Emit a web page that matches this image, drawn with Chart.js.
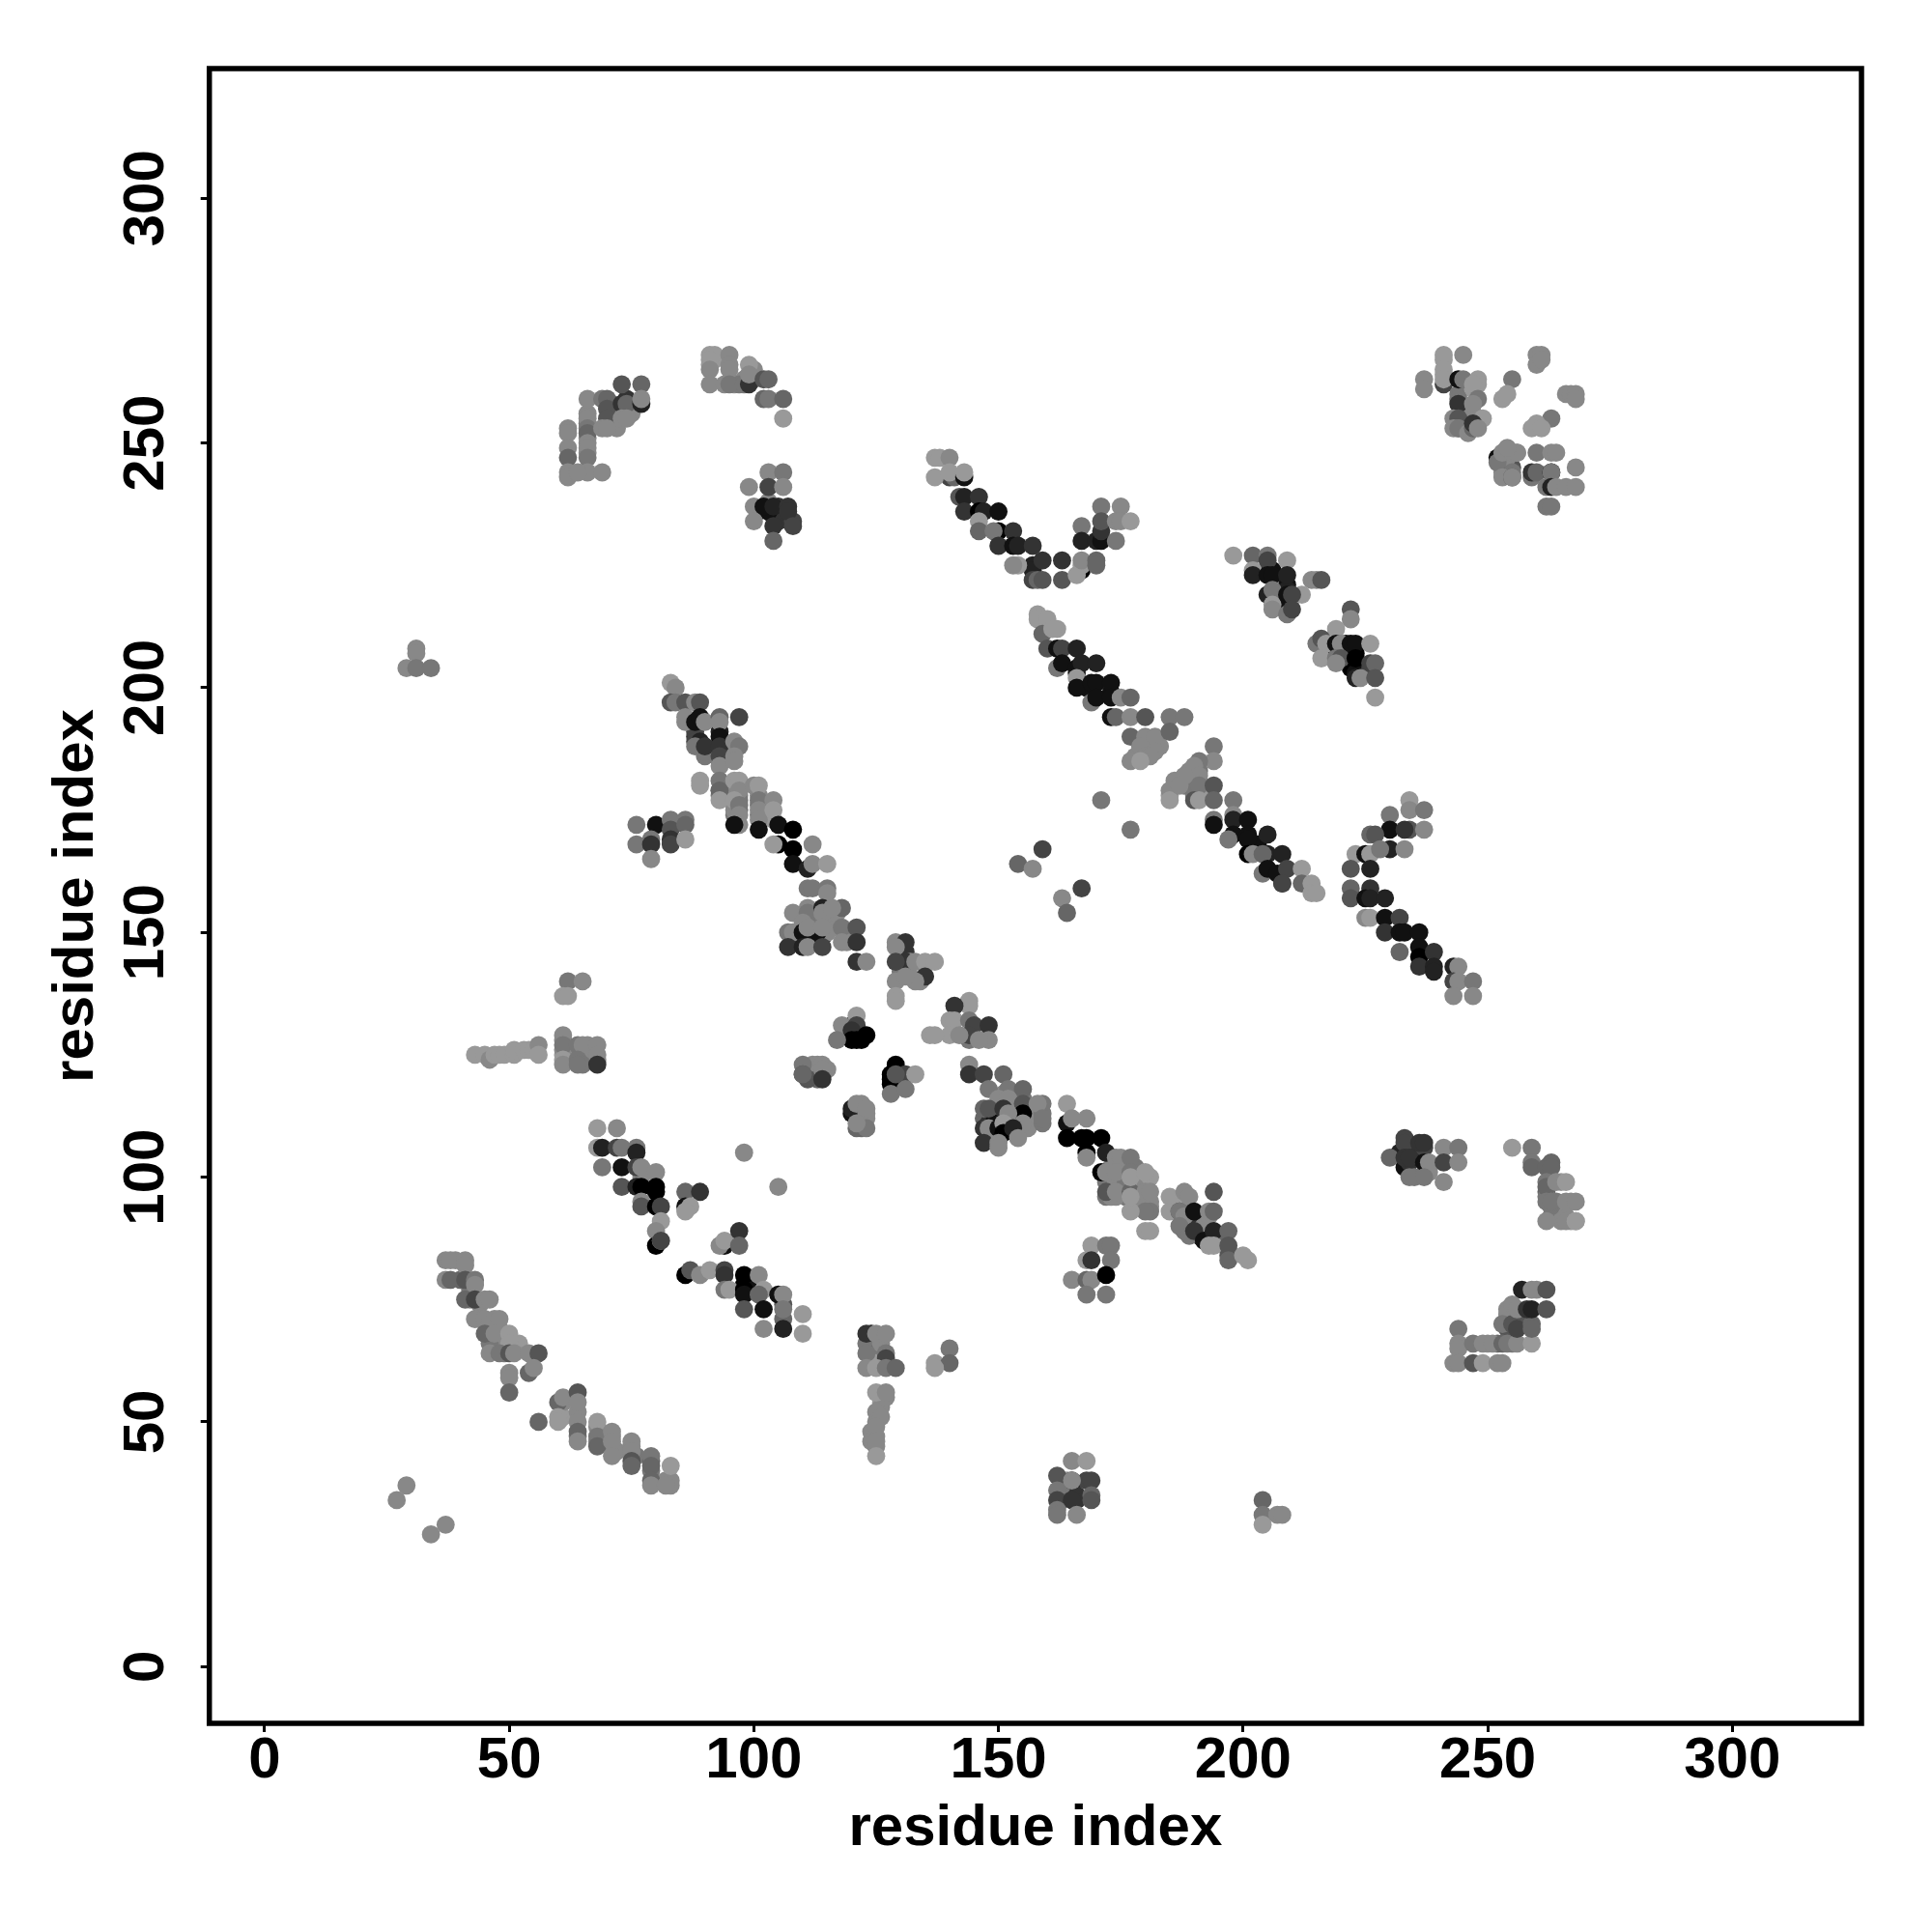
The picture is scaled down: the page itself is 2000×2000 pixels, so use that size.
<!DOCTYPE html>
<html>
<head>
<meta charset="utf-8">
<title>residue contacts</title>
<script src="https://cdn.jsdelivr.net/npm/chart.js@4"></script>
<style>
  html, body { margin: 0; padding: 0; background: #fff; }
  canvas { display: block; }
</style>
</head>
<body>
<canvas id="grafico" width="2000" height="2000"></canvas>
<script>
// contactos: residuo x, residuo y, nivel (0 claro .. 9 negro)
const tickValues = [0, 50, 100, 150, 200, 250, 300];
const axisLabel = 'residue index';

// puntos medio tapados dentro de los grupos, van debajo de los demas
const underAX = [39,40,42,42,44,44,47,47,48,49,46,49,52,61,68,68,71,71,72,75,76,79,79,61,64,64,83,82];
const underAY = [83,79,77,75,74,71,71,69,69,67,66,64,66,51,49,46,47,45,44,45,43,42,40,54,52,47,38,38];
const underAL = [1,3,2,1,1,1,1,2,1,1,2,2,0,0,1,1,1,1,1,1,2,3,2,1,1,2,1,1];

const underBX = [126,126,125,125,125,124,125,127,124,125,123,125,124,126,125,65,64,65,66,67,67,68,61,61,61,66];
const underBY = [54,53,52,50,47,48,45,55,68,67,66,64,63,66,62,125,125,124,125,126,124,124,128,125,126,127];
const underBL = [0,1,1,1,1,1,1,1,7,1,2,3,2,1,0,2,2,2,1,1,1,1,1,0,1,1];

const underCX = [97,97,96,97,101,101,101,96,96,104,93,93,96,96,88,88,93,96,90,93];
const underCY = [178,177,180,175,178,176,174,174,175,173,178,179,179,176,190,191,191,187,186,185];
const underCL = [1,2,1,2,1,2,2,2,1,0,2,2,1,1,6,5,7,1,2,2];

const underDX = [112,113,115,116,117,114,111,115,117,113,110,119,119,129,128,129,120,121,122,120,121,120,122,123,122,122,122];
const underDY = [152,153,152,152,151,149,149,150,154,150,148,150,148,122,119,119,129,129,129,131,130,113,115,112,113,111,110];
const underDL = [1,2,1,1,1,7,8,1,1,8,7,2,1,9,9,9,9,7,9,6,6,8,1,1,1,2,3];

const underEX = [111,111,112,113,115,114,113,111,130,131,132,131,130,132,134];
const underEY = [122,121,123,123,122,121,120,120,146,146,144,143,142,141,140];
const underEL = [2,4,1,1,1,1,3,4,1,6,1,5,2,1,1];

const underFX = [151,152,152,155,155,152,154,153,151,152,148,147,148,150,150,149,151,156,157,156,159];
const underFY = [117,116,115,116,114,112,111,112,113,114,112,112,111,109,108,111,110,112,113,110,113];
const underFL = [1,2,1,2,3,1,1,1,6,1,4,3,6,1,1,8,8,1,1,1,2];

const underGX = [173,172,174,175,175,176,176,176,178,178,178,180,181,181,181,178,175,172,173,174];
const underGY = [102,99,99,101,98,100,99,96,99,97,95,99,100,95,94,102,103,96,96,96];
const underGL = [1,2,1,2,1,2,2,2,0,0,1,1,0,1,1,2,1,2,1,1];

const underHX = [188,188,186,189,189,188,190,191,192,193,196,197,197];
const underHY = [95,94,95,92,90,89,91,88,90,92,87,85,84];
const underHL = [1,2,0,3,3,2,6,7,1,1,3,3,4];

const underIX = [179,180,180,181,182,183,178,179,189,190,190,191,191,186,188,185,190,192,166,173,168,203];
const underIY = [188,187,189,189,188,188,186,186,183,183,180,183,179,181,180,178,178,178,203,199,200,168];
const underIL = [1,1,1,1,1,1,1,1,1,1,1,2,2,1,2,0,2,0,7,8,8,8];

const underJX = [241,241,244,247,246,245,245,247,248,253,254,255,254,255,256,259,250,255,252,254,254,257,258,255,254,254];
const underJY = [264,267,260,261,254,253,255,256,254,244,246,245,247,244,248,243,66,66,66,70,69,70,70,73,73,72];
const underJL = [0,0,2,0,2,3,2,1,1,1,1,4,1,2,1,2,1,2,3,3,4,3,4,1,1,1];

const underKX = [235,232,233,234,235,236,238,237,262,262,263,263,264,267,267,265,266,265];
const underKY = [105,105,102,103,100,104,101,106,97,96,94,92,95,95,91,99,92,91];
const underKL = [6,7,8,6,2,7,1,5,3,2,2,2,2,1,0,0,1,1];

const underLX = [165,165,166,166,164,163,163,66,66,66,71,71,72,72,72,75,75,74,91,92,96,98,100,97,100];
const underLY = [36,37,34,35,38,37,34,254,251,248,254,258,257,256,253,256,257,259,266,267,262,263,263,262,265];
const underLL = [6,7,6,6,0,2,3,2,1,1,4,3,2,1,1,1,1,6,0,0,1,1,2,2,1];

const underMX = [105,105,104,108,101,103,205,206,209,206,209,209,220,219,222,223,223,222,223,226,221,218,99,98,99,106,106,77];
const underMY = [234,237,235,234,236,236,224,224,221,218,220,217,207,207,207,207,204,204,203,204,209,208,79,78,77,74,71,100];
const underML = [6,6,6,5,1,8,7,8,8,2,7,8,4,1,8,9,9,9,8,5,8,7,9,9,8,4,3,1];

const arcAX = [62,62,62,62,62,62,66,66,66,66,66,66,66,66,64,69,66,69,70,70,70,69,70,73,73,74,73,74,77,77,77];
const arcAY = [253,252,249,247,244,243,256,255,253,252,250,249,247,244,244,244,259,259,259,257,255,253,253,262,258,258,255,255,262,258,259];
const arcAL = [1,1,1,3,1,1,1,1,2,3,1,1,2,1,1,1,1,2,3,4,4,1,1,4,6,3,1,1,3,7,1];

const arcBX = [91,92,91,91,95,95,95,91,94,95,98,99,99,99,102,103,102,103,106,106];
const arcBY = [268,268,267,265,268,266,265,262,262,262,262,262,266,264,263,263,259,259,259,255];
const arcBL = [0,0,0,1,1,1,1,1,1,2,2,6,0,1,4,3,3,2,3,0];

const blobCX = [103,103,106,99,103,106,100,102,104,107,107,100,104,108,104];
const blobCY = [238,244,244,241,241,241,237,237,237,237,236,234,233,233,230];
const blobCL = [1,1,2,1,5,1,1,8,7,6,6,1,6,5,3];

const smallDX = [31,31,29,31,34];
const smallDY = [208,207,204,204,204];
const smallDL = [1,1,1,2,2];

const strandEX = [83,84,83,84,86,88,89,86,86,88,89,90,93,97,93,88,89,88,90,90,93,93,93,93,96,97,96,96];
const strandEY = [201,200,197,197,197,197,197,193,194,193,194,193,194,194,193,189,189,188,187,188,190,188,186,184,189,188,186,185];
const strandEL = [0,1,4,2,4,1,4,1,1,8,8,1,3,5,1,5,7,2,2,6,8,6,5,1,1,2,1,1];

const strandFX = [89,89,93,93,93,96,97,97,96,97,97,97,96,100,101,101,101,101,101,104,104,105,108,105,104,108,108,112,111,112,115];
const strandFY = [181,180,181,179,177,181,181,179,177,176,174,172,172,180,180,177,175,173,171,177,175,172,171,168,168,167,164,168,163,164,164];
const strandFL = [0,0,2,3,0,0,0,1,0,2,1,1,8,1,0,2,1,1,8,1,0,8,9,9,0,9,8,1,7,1,0];

const sideGX = [76,80,83,83,86,86,76,79,79,83,83,86,79];
const sideGY = [172,172,173,171,173,172,168,169,168,169,168,169,165];
const sideGL = [2,8,2,4,2,3,2,2,6,6,5,0,1];

const blobHX = [111,112,115,115,108,111,111,114,114,118,116,110,107,108,110,111,114,118,121,118,121,107,110,111,114,121,123];
const blobHY = [159,159,159,158,154,155,154,155,154,155,155,152,150,150,150,151,151,151,151,148,148,147,147,147,147,144,144];
const blobHL = [2,2,2,1,1,1,2,7,1,3,1,1,2,1,8,1,1,2,4,1,6,6,7,1,5,6,1];

const blobIX = [129,131,129,131,129,133,135,137,135,133,129,131,129,129];
const blobIY = [148,148,147,144,144,144,144,144,141,140,140,141,137,136];
const blobIL = [1,6,1,6,5,1,0,0,6,1,1,1,0,0];

const blobJX = [144,144,141,140,141,144,145,148,144,140,136,137,144,148,146,142];
const blobJY = [136,135,135,132,132,132,131,131,128,129,129,129,129,128,128,129];
const blobJL = [0,0,6,0,0,2,5,6,2,0,0,0,5,1,1,1];

const crossKX = [121,118,121,120,120,122,121,117,123];
const crossKY = [133,131,131,130,128,128,128,128,129];
const crossKL = [0,1,5,6,9,9,9,2,9];

const crossLX = [129,128,128,131,133,128,131,129];
const crossLY = [123,121,120,121,121,117,118,121];
const crossLL = [9,9,9,5,0,2,2,4];

const crossMX = [120,121,123,123,121,123,121];
const crossMY = [114,115,113,114,110,110,111];
const crossML = [7,1,1,1,3,2,1];

const crossNX = [110,110,114,114,114,110];
const crossNY = [123,121,123,122,120,121];
const crossNL = [2,4,1,1,6,3];

const lowOX = [62,65,61,62];
const lowOY = [140,140,137,137];
const lowOL = [2,1,0,0];

const rowPX = [43,45,46,47,48,49,51,51,53,54,55,56,56];
const rowPY = [125,125,124,125,125,125,125,126,126,126,126,127,125];
const rowPL = [0,0,1,0,0,0,0,0,0,0,0,1,0];

const blobQX = [61,61,61,61,64,65,68,64,65,68,68,64];
const blobQY = [129,127,124,123,127,127,127,124,123,125,123,123];
const blobQL = [1,2,0,1,2,1,1,2,2,1,6,2];

const strandRX = [68,72,68,69,72,73,76,76,69,73,76,77,80,73,76,77,80,80,77,77,80,81,81,80,80,81,81];
const strandRY = [110,110,106,106,106,106,106,105,102,102,102,102,101,98,98,98,98,97,95,94,94,94,91,89,86,87,87];
const strandRL = [0,1,0,7,5,2,2,7,2,8,5,1,1,4,7,9,9,9,1,4,9,5,0,1,9,0,5];

const sideSX = [86,89,86,87,86,94,93,94,97,97,98,105];
const sideSY = [97,97,94,94,93,86,86,87,89,86,105,98];
const sideSL = [3,6,8,0,0,8,1,0,6,3,1,1];

const strandTX = [86,87,89,91,94,94,98,101,94,95,98,98,102,101,105,106,98,102,106,110,102,106,110];
const strandTY = [80,81,80,81,81,80,80,80,77,77,77,76,77,76,76,76,73,73,73,72,69,69,68];
const strandTL = [9,4,1,0,5,6,9,1,2,0,9,8,0,3,8,1,4,8,2,0,1,7,0];

const arcUX = [37,38,41,41,37,38,41,43,43,41,43,45,46,43,45,46,48,45,47,50,50,46,48,50,51,54,56,50,50,54,55,50];
const arcUY = [83,83,83,82,79,79,79,79,78,75,75,75,75,71,71,70,71,68,68,68,66,64,64,64,64,64,64,60,59,60,61,56];
const arcUL = [1,1,1,1,1,3,4,2,1,3,5,1,1,1,1,1,1,3,1,0,0,1,2,4,1,1,4,1,1,3,1,3];

const arcVX = [56,60,61,64,64,60,60,64,64,64,68,68,68,71,71,71,75,75,75,75,79,79,79,79,83,83,82];
const arcVY = [50,54,55,56,54,51,50,50,48,46,50,47,45,48,46,43,46,44,42,41,43,41,38,37,41,37,37];
const arcVL = [3,3,1,4,1,0,0,1,3,1,0,2,3,1,1,1,1,1,4,3,2,3,3,1,0,1,1];

const colWX = [123,125,127,123,127,127,123,125,127,129,125,127,126,125,124,125,125];
const colWY = [68,68,68,64,64,63,61,61,61,61,56,56,51,49,46,46,43];
const colWL = [6,1,1,2,2,5,1,0,2,3,0,1,1,1,1,1,0];

const pairXX = [140,137,140,137];
const pairXY = [65,62,62,61];
const pairXL = [2,0,3,0];

const blobYX = [165,168,162,165,168,169,162,162,165,169,169,162,162,166,165];
const blobYY = [42,42,39,38,38,38,36,34,34,35,34,32,31,31,38];
const blobYL = [1,0,4,7,5,5,2,5,6,3,4,2,2,1,1];

const blobZX = [204,204,204,207,208];
const blobZY = [34,31,29,31,31];
const blobZL = [3,2,0,1,1];

const lonelyAX = [27,29,34,37,171,177,159,154,157,167,163,164];
const lonelyAY = [34,37,27,29,177,171,167,164,163,159,157,154];
const lonelyAL = [1,1,1,1,2,2,5,3,1,5,1,3];

const diagBX = [137,138,140,140,137,141,140,143,143,142,143,146,143,146,147,150,146,146,150,149,153,150,153,154,157];
const diagBY = [247,247,247,243,243,243,244,243,244,239,239,239,236,236,236,236,234,232,232,232,232,229,229,229,229];
const diagBL = [0,0,1,5,0,3,0,8,0,4,7,6,6,9,7,8,0,3,9,2,6,6,8,7,6];

const diagCX = [157,157,154,153,159,163,157,158,159,163,167,167,166,167,170,170];
const diagCY = [225,224,225,225,226,226,222,222,222,222,224,225,223,226,226,225];
const diagCL = [7,7,0,1,6,6,5,3,4,4,9,0,0,1,3,3];

const vDX = [167,167,170,171,174,171,175,171,171,174,175,177];
const vDY = [233,230,230,230,230,237,237,232,234,234,234,234];
const vDL = [2,7,7,8,2,2,1,6,4,1,1,0];

const diagEX = [158,158,160,159,162,161,160,162,163,166,162,163,166,167,170,166,166,169,170,173,169,170,173,175,177];
const diagEY = [215,214,214,211,212,212,208,208,208,208,204,205,204,205,205,202,200,201,201,201,197,198,198,198,198];
const diagEL = [0,0,0,3,0,0,4,8,5,7,2,8,8,7,7,0,8,8,8,8,2,8,8,1,3];

const diagFX = [173,174,177,180,185,188,177,180,182,185,179,182,180,181,177,179];
const diagFY = [194,194,194,194,194,194,190,190,190,191,188,187,186,186,185,185];
const diagFL = [8,3,1,4,2,2,3,1,1,3,1,1,1,1,1,0];

const diagGX = [194,194,191,190,191,191,188,185,185,187,190,191,194,194,198];
const diagGY = [188,185,185,184,182,180,182,179,177,180,177,177,180,177,177];
const diagGL = [2,1,2,1,1,2,1,1,0,1,4,0,4,3,2];

const diagHX = [194,194,198,198,201,198,197,201,201,205,201,202,205,204,208];
const diagHY = [173,172,174,173,173,170,169,170,169,170,166,166,166,166,166];
const diagHL = [2,8,1,7,8,8,2,8,8,7,9,1,7,3,7];

const diagIX = [204,205,207,208,209,208,212,212,214,214,215];
const diagIY = [162,163,162,160,163,160,163,160,160,158,158];
const diagIL = [2,8,8,5,5,5,0,3,0,0,0];

const vJX = [234,234,237,230,230,234,237,233,226,227,223,225,226,230,233,228];
const vJY = [177,175,175,174,171,171,171,171,170,170,166,166,166,167,167,167];
const vJL = [0,1,2,2,8,4,1,6,3,4,0,8,0,7,1,2];

const vKX = [222,226,222,222,226,225,226,229,225,226,229,232,229,232,233,236];
const vKY = [163,163,159,157,159,157,157,157,153,153,153,153,150,150,150,150];
const vKL = [4,7,3,4,6,8,7,7,1,0,8,5,6,8,8,8];

const vLX = [232,236,236,239,236,239,239,243,244,243,244,247,243,247];
const vLY = [146,147,145,146,143,143,142,143,143,140,140,140,137,137];
const vLL = [3,8,9,6,6,7,7,7,1,5,1,2,1,1];

const strandMX = [198,202,205,205,209,202,202,205,206,209,214,215,216,205,206,206,209,212,210,206,209,210];
const strandMY = [227,227,227,226,226,224,223,223,223,223,222,222,222,219,220,217,219,219,219,216,215,216];
const strandML = [0,3,2,5,0,0,7,8,8,7,1,1,4,7,2,0,8,0,5,1,2,5];

const strandNX = [222,222,219,215,216,217,219,220,222,223,226,216,219,220,219,223,226,227,223,224,227,227];
const strandNY = [216,214,212,209,210,209,209,209,209,209,209,206,206,206,205,206,205,205,202,202,202,198];
const strandNL = [4,1,0,2,4,0,8,1,8,8,0,0,2,4,1,9,5,3,7,1,4,0];

const cornerPX = [241,241,245,237,237,241,241,244,245,248,248,247,244,244,248,247,243,244,244,243,244,246,247,248,249,247,248];
const cornerPY = [268,265,268,263,261,262,263,263,263,263,262,262,259,258,259,258,255,255,253,253,253,252,253,255,255,254,253];
const cornerPL = [0,0,1,1,1,5,0,8,2,0,0,0,2,6,2,1,1,4,2,1,2,1,3,1,0,6,1];

const cornerQX = [255,253,254,260,261,260,261,266,267,268,268,263,260,259,261];
const cornerQY = [263,259,260,268,268,266,267,260,260,260,259,255,254,253,253];
const cornerQL = [2,0,0,1,1,1,1,1,1,1,1,2,0,0,0];

const cornerRX = [252,252,253,255,256,254,260,263,264,253,255,255,259,260,263,263,268,262,263,264,266,268,262,263];
const cornerRY = [247,246,248,248,248,249,248,248,248,243,243,243,244,244,244,244,245,241,241,241,241,241,237,237];
const cornerRL = [8,2,1,1,1,1,2,1,1,1,4,1,6,3,9,2,1,2,7,1,1,1,2,2];

const strandSX = [144,144,147,151,148,152,155,150,152,155,155,159,158];
const strandSY = [123,121,121,121,118,118,118,116,116,115,113,115,115];
const strandSL = [1,6,5,3,2,2,3,1,1,4,9,2,1];

const blobTX = [147,148,151,152,147,148,150,151,151,155,153,159,159,147,150,150,154];
const blobTY = [114,114,114,113,110,110,110,111,109,111,110,111,112,107,107,106,108];
const blobTL = [3,4,6,1,6,1,8,0,9,1,7,2,2,6,1,1,1];

const strandUX = [164,164,165,168,164,167,168,171,168,168,172,171,172];
const strandUY = [115,111,112,112,108,108,108,108,105,104,105,101,101];
const strandUL = [0,8,1,1,9,9,9,9,9,1,7,9,1];

const strandVX = [174,175,177,172,174,174,177,177,177,180,180,181,181,180,177,177,180,181];
const strandVY = [104,104,104,97,101,97,101,97,100,101,97,97,93,93,93,96,89,89];
const strandVL = [1,1,2,4,1,1,2,3,0,0,1,1,2,2,0,0,0,0];

const strandWX = [185,185,187,188,189,194,187,188,190,193,194,187,189,190,192,194,193,194,197,197,197,200,201];
const strandWY = [96,93,93,97,96,97,93,92,93,93,93,90,88,89,87,89,86,86,89,86,83,84,83];
const strandWL = [0,0,4,1,1,4,2,1,8,1,3,2,2,6,8,7,0,0,3,4,3,0,0];

const blobWX = [169,172,173,168,169,173,165,168,169,172,168,172];
const blobWY = [86,86,86,83,83,83,79,79,79,80,76,76];
const blobWL = [0,2,2,0,6,2,1,3,1,9,2,2];

const blobXX = [233,233,236,237,241,244,230,233,234,237,238,241,244,234,237,241];
const blobXY = [108,107,107,107,106,106,104,104,104,103,103,103,103,100,100,99];
const blobXL = [5,5,6,6,1,2,3,6,6,8,1,5,1,2,2,1];

const hookYX = [255,259,259,259,263,262,263,262,262,264,266,262,263,266,268,262,266,268,268];
const hookYY = [106,106,103,102,103,102,102,99,98,99,99,95,95,95,95,91,91,91,91];
const hookYL = [0,2,2,3,3,3,3,2,3,1,0,2,2,1,1,1,1,0,0];

const hookZX = [244,244,244,247,249,251,253,254,256,259,243,244,247,249,252,253];
const hookZY = [69,66,65,66,66,66,66,66,66,66,62,62,62,62,62,62];
const hookZL = [2,1,1,2,1,1,3,2,1,0,1,1,4,0,1,1];

const hookAX = [253,255,256,259,259,255,256,258,259,262,257,259,260,262];
const hookAY = [70,70,69,70,69,74,73,73,73,73,77,77,77,77];
const hookAL = [2,4,5,3,3,1,1,6,7,4,7,1,1,4];

const clusters = [
  [underAX, underAY, underAL], [underBX, underBY, underBL], [underCX, underCY, underCL], [underDX, underDY, underDL],
  [underEX, underEY, underEL], [underFX, underFY, underFL], [underGX, underGY, underGL], [underHX, underHY, underHL],
  [underIX, underIY, underIL], [underJX, underJY, underJL], [underKX, underKY, underKL], [underLX, underLY, underLL],
  [underMX, underMY, underML],
  [arcAX, arcAY, arcAL], [arcBX, arcBY, arcBL], [blobCX, blobCY, blobCL], [smallDX, smallDY, smallDL],
  [strandEX, strandEY, strandEL], [strandFX, strandFY, strandFL], [sideGX, sideGY, sideGL], [blobHX, blobHY, blobHL],
  [blobIX, blobIY, blobIL], [blobJX, blobJY, blobJL], [crossKX, crossKY, crossKL], [crossLX, crossLY, crossLL],
  [crossMX, crossMY, crossML], [crossNX, crossNY, crossNL], [lowOX, lowOY, lowOL], [rowPX, rowPY, rowPL],
  [blobQX, blobQY, blobQL], [strandRX, strandRY, strandRL], [sideSX, sideSY, sideSL], [strandTX, strandTY, strandTL],
  [arcUX, arcUY, arcUL], [arcVX, arcVY, arcVL], [colWX, colWY, colWL], [pairXX, pairXY, pairXL],
  [blobYX, blobYY, blobYL], [blobZX, blobZY, blobZL], [lonelyAX, lonelyAY, lonelyAL], [diagBX, diagBY, diagBL],
  [diagCX, diagCY, diagCL], [vDX, vDY, vDL], [diagEX, diagEY, diagEL], [diagFX, diagFY, diagFL],
  [diagGX, diagGY, diagGL], [diagHX, diagHY, diagHL], [diagIX, diagIY, diagIL], [vJX, vJY, vJL],
  [vKX, vKY, vKL], [vLX, vLY, vLL], [strandMX, strandMY, strandML], [strandNX, strandNY, strandNL],
  [cornerPX, cornerPY, cornerPL], [cornerQX, cornerQY, cornerQL], [cornerRX, cornerRY, cornerRL], [strandSX, strandSY, strandSL],
  [blobTX, blobTY, blobTL], [strandUX, strandUY, strandUL], [strandVX, strandVY, strandVL], [strandWX, strandWY, strandWL],
  [blobWX, blobWY, blobWL], [blobXX, blobXY, blobXL], [hookYX, hookYY, hookYL], [hookZX, hookZY, hookZL],
  [hookAX, hookAY, hookAL]
];

const puntos = [];
const colores = [];
clusters.forEach(([xs, ys, niveles]) => {
    xs.forEach((x, i) => {
        puntos.push({ x: x, y: ys[i] });
        const g = 153 - 17 * niveles[i];
        colores.push(`rgb(${g},${g},${g})`);
    });
});

const fuente = { family: '"Liberation Sans"', size: 60, weight: 'bold' };

// marco completo alrededor del area de datos
const marco = {
    id: 'marco',
    afterDraw(chart) {
        const { ctx, chartArea: a } = chart;
        ctx.save();
        ctx.strokeStyle = '#000';
        ctx.lineWidth = 5.5;
        ctx.strokeRect(a.left, a.top, a.right - a.left, a.bottom - a.top);
        ctx.restore();
    }
};

function fijarTicks(scale) {
    scale.ticks = tickValues.map(v => ({ value: v, label: String(v) }));
}

new Chart(document.getElementById('grafico'), {
    type: 'scatter',
    data: {
        datasets: [{
            data: puntos,
            pointRadius: 9.4,
            pointBorderWidth: 0,
            pointBackgroundColor: colores
        }]
    },
    options: {
        responsive: false,
        animation: false,
        layout: { padding: { top: 71, right: 73 } },
        plugins: { legend: { display: false }, tooltip: { enabled: false } },
        scales: {
            x: {
                min: -11.3,
                max: 326.4,
                afterBuildTicks: fijarTicks,
                afterFit(scale) { scale.height = 216; },
                border: { display: false },
                grid: { drawOnChartArea: false, drawTicks: true, tickLength: 9, tickWidth: 3, tickColor: '#000' },
                ticks: { font: fuente, color: '#000', padding: -6, maxRotation: 0, autoSkip: false },
                title: { display: true, text: axisLabel, font: fuente, color: '#000', padding: { top: 0, bottom: 71 } }
            },
            y: {
                min: -11.6,
                max: 326.5,
                afterBuildTicks: fijarTicks,
                afterFit(scale) { scale.width = 216.7; },
                border: { display: false },
                grid: { drawOnChartArea: false, drawTicks: true, tickLength: 9, tickWidth: 3, tickColor: '#000' },
                ticks: { font: fuente, color: '#000', padding: 5, minRotation: 90, crossAlign: 'center', autoSkip: false },
                title: { display: true, text: axisLabel, font: fuente, color: '#000', padding: { top: 43, bottom: 0 } }
            }
        }
    },
    plugins: [marco]
});
</script>
</body>
</html>
